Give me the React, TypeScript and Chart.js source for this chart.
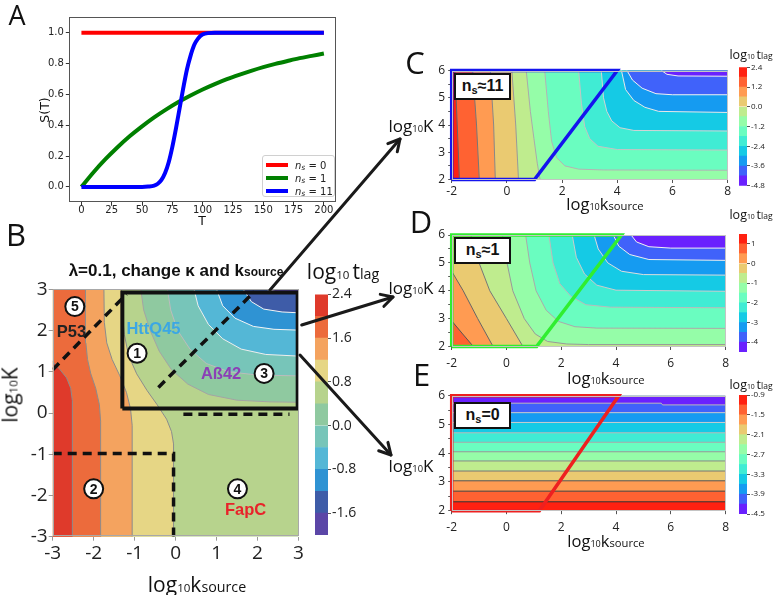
import React, { useEffect, useRef } from 'react';
import { Chart, registerables } from 'chart.js';

Chart.register(...registerables);

type P = [number, number];

/* ================= Panel A : S(T) curves ================= */
const aTRed = [0, 200];
const aSRed = [1, 1];
const aTGreen = [0, 10, 20, 30, 40, 50, 60, 70, 80, 90, 100, 110, 120, 130, 140, 150, 160, 170, 180, 190, 200];
const aSGreen = [0, 0.095, 0.181, 0.259, 0.33, 0.393, 0.451, 0.503, 0.551, 0.593, 0.632, 0.667, 0.699, 0.727, 0.753, 0.777, 0.798, 0.817, 0.835, 0.85, 0.865];
const aTBlue = [0, 50, 55, 60, 63, 66, 69, 72, 75, 78, 81, 84, 87, 90, 93, 96, 100, 110, 150, 200];
const aSBlue = [0, 0, 0.002, 0.008, 0.02, 0.045, 0.09, 0.16, 0.26, 0.38, 0.51, 0.64, 0.76, 0.85, 0.92, 0.96, 0.99, 1, 1, 1];
const aXTicks = [0, 25, 50, 75, 100, 125, 150, 175, 200];
const aYTicks = [0, 0.2, 0.4, 0.6, 0.8, 1.0];

/* ================= Panel B : log10 t_lag, lambda = 0.1 ================= */
const bTicks = [-3, -2, -1, 0, 1, 2, 3];
const bLevels = [-2.0, -1.6, -1.2, -0.8, -0.4, 0, 0.4, 0.8, 1.2, 1.6, 2.0, 2.4];
const bCbTicks = [2.4, 1.6, 0.8, 0, -0.8, -1.6];
// high-value contours (bottom -> top)
const bHi20: P[] = [[-2.52, -3], [-2.52, 0.3], [-2.56, 0.6], [-2.66, 0.85], [-2.82, 1.05], [-3, 1.25]];
const bHi16: P[] = [[-1.83, -3], [-1.83, -0.2], [-1.86, 0.2], [-1.95, 0.6], [-2.07, 0.95], [-2.15, 1.3], [-2.19, 1.7], [-2.2, 3]];
const bHi12: P[] = [[-1.06, -3], [-1.06, -0.3], [-1.1, 0.1], [-1.2, 0.5], [-1.36, 0.9], [-1.55, 1.3], [-1.68, 1.7], [-1.74, 2.2], [-1.75, 3]];
const bHi08: P[] = [[-0.05, -3], [-0.05, -0.75], [-0.1, -0.45], [-0.22, -0.15], [-0.45, 0.2], [-0.7, 0.55], [-0.95, 0.95], [-1.15, 1.4], [-1.25, 1.9], [-1.3, 2.4], [-1.32, 3]];
// low-value contours (top edge -> right edge)
const bLo04: P[] = [[-0.85, 3], [-0.78, 2.5], [-0.62, 2.0], [-0.4, 1.5], [-0.1, 1.05], [0.3, 0.7], [0.8, 0.45], [1.5, 0.31], [2.3, 0.27], [3, 0.26]];
const bLo00: P[] = [[-0.2, 3], [-0.12, 2.5], [0.05, 2.0], [0.35, 1.55], [0.75, 1.2], [1.3, 1.0], [2.0, 0.92], [3, 0.9]];
const bLoM04: P[] = [[0.45, 3], [0.55, 2.6], [0.8, 2.15], [1.15, 1.8], [1.6, 1.55], [2.2, 1.42], [3, 1.38]];
const bLoM08: P[] = [[1.0, 3], [1.15, 2.6], [1.45, 2.3], [1.9, 2.1], [2.4, 2.03], [3, 2.01]];
const bLoM12: P[] = [[1.65, 3], [1.85, 2.7], [2.15, 2.52], [2.6, 2.45], [3, 2.43]];
const bLoM16: P[] = [[2.2, 3], [2.5, 2.93], [3, 2.9]];
// annotations in panel B
const bBox: P[] = [[-1.3, 0.11], [2.98, 0.11], [2.98, 2.92], [-1.3, 2.92], [-1.3, 0.11]];
const bDash1: P[] = [[-3, 1.05], [-1.2, 2.88]];
const bDash2: P[] = [[-0.42, 0.62], [1.92, 2.94]];
const bDash3: P[] = [[0.19, -0.03], [2.78, -0.03]];
const bDash4: P[] = [[-3, -0.98], [-0.05, -0.98], [-0.05, -3]];
const bCircleNames = ['5', '1', '3', '2', '4'];
const bCircleX = [-2.46, -0.94, 2.16, -2.0, 1.51];
const bCircleY = [2.58, 1.45, 0.96, -1.84, -1.84];
const bTagNames = ['P53', 'HttQ45', 'Aß42', 'FapC'];
const bTagX = [-2.54, -0.54, 1.11, 1.71];
const bTagY = [1.97, 2.05, 0.96, -2.35];

/* ================= Panels C, D, E ================= */
const cdeXTicks = [-2, 0, 2, 4, 6, 8];
const cdeYTicks = [2, 2.5, 3, 3.5, 4, 4.5, 5, 5.5, 6];

// C : n_s ~ 11, levels -4.8 .. 2.4 step 0.6
const cLevels = [-4.8, -4.2, -3.6, -3.0, -2.4, -1.8, -1.2, -0.6, 0, 0.6, 1.2, 1.8, 2.4];
const cCbTicks = [2.4, 1.2, 0, -1.2, -2.4, -3.6, -4.8];
const c18: P[] = [[-1.72, 2], [-1.8, 4], [-1.88, 6]];
const c12: P[] = [[-1.0, 2], [-1.1, 4], [-1.24, 6]];
const c06: P[] = [[-0.42, 2], [-0.48, 4], [-0.6, 6]];
const c00: P[] = [[0.42, 2], [0.32, 4], [0.18, 6]];
const cM06: P[] = [[0.7, 6], [0.85, 4.5], [0.98, 3.5], [1.1, 2.6], [1.2, 2]];
const cM12: P[] = [[1.37, 6], [1.5, 4.5], [1.62, 3.4], [1.8, 2.8], [2.1, 2.5], [2.6, 2.38], [3.5, 2.35], [8, 2.34]];
const cM18: P[] = [[2.6, 6], [2.7, 4.8], [2.82, 3.94], [3.0, 3.5], [3.3, 3.22], [4.0, 3.1], [8, 3.08]];
const cM24: P[] = [[3.42, 6], [3.5, 5.0], [3.62, 4.5], [3.8, 4.15], [4.1, 3.9], [4.6, 3.8], [8, 3.78]];
const cM30: P[] = [[4.15, 6], [4.3, 5.3], [4.6, 4.9], [5.0, 4.65], [5.5, 4.5], [8, 4.46]];
const cM36: P[] = [[4.35, 6], [4.55, 5.65], [4.9, 5.35], [5.4, 5.15], [6.0, 5.11], [8, 5.11]];
const cM42: P[] = [[5.6, 6], [5.8, 5.86], [6.2, 5.8], [8, 5.79]];
const cPoly: P[] = [[-2, 2], [-2, 6], [4.0, 6], [1.0, 2], [-2, 2]];

// D : n_s ~ 1, levels -4.5 .. 1.5 step 0.5
const dLevels = [-4.5, -4, -3.5, -3, -2.5, -2, -1.5, -1, -0.5, 0, 0.5, 1, 1.5];
const dCbTicks = [1, 0, -1, -2, -3, -4];
const d05: P[] = [[-2, 2.92], [-1.6, 2.45], [-1.21, 2]];
const d00: P[] = [[-2, 4.7], [-1.58, 4.0], [-1.05, 3.0], [-0.49, 2]];
const dM05: P[] = [[-1.3, 6], [-1.0, 5.0], [-0.61, 4.0], [0.0, 3.0], [0.6, 2]];
const dM10: P[] = [[-0.15, 6], [0.02, 5.0], [0.23, 4.0], [0.65, 3.0], [1.05, 2.45], [1.5, 2.18], [2.2, 2.09], [3.0, 2.07], [8, 2.07]];
const dM15: P[] = [[0.7, 6], [0.85, 5.0], [1.08, 4.0], [1.45, 3.3], [1.9, 2.9], [2.5, 2.71], [3.3, 2.66], [8, 2.65]];
const dM20: P[] = [[1.55, 6], [1.7, 5.0], [1.95, 4.25], [2.35, 3.8], [2.9, 3.5], [3.8, 3.41], [8, 3.39]];
const dM25: P[] = [[2.4, 6], [2.55, 5.2], [2.85, 4.6], [3.3, 4.2], [4.0, 4.02], [8, 3.98]];
const dM30: P[] = [[3.2, 6], [3.35, 5.5], [3.7, 5.0], [4.2, 4.7], [5.0, 4.58], [8, 4.56]];
const dM35: P[] = [[3.9, 6], [4.1, 5.6], [4.5, 5.3], [5.2, 5.12], [8, 5.09]];
const dM40: P[] = [[4.55, 6], [4.75, 5.75], [5.2, 5.58], [6, 5.53], [8, 5.53]];
const dPoly: P[] = [[-2, 2], [-2, 6], [4.2, 6], [1.1, 2], [-2, 2]];

// E : n_s = 0, levels -4.5 .. -0.9 step 0.3 (horizontal bands)
const eLevels = [-4.5, -4.2, -3.9, -3.6, -3.3, -3.0, -2.7, -2.4, -2.1, -1.8, -1.5, -1.2, -0.9];
const eCbTicks = [-0.9, -1.5, -2.1, -2.7, -3.3, -3.9, -4.5];
const eBoundY = [2.31, 2.68, 3.04, 3.38, 3.73, 4.05, 4.38, 4.71, 5.07, 5.41, 5.74];
const eTopStep: P[] = [[-2, 5.74], [5.65, 5.74], [5.7, 5.68], [8, 5.68]];
const ePoly: P[] = [[-2, 2], [-2, 6], [4.1, 6], [1.2, 2], [-2, 2]];

/* ================= styles ================= */
const bColors = ['#5b46a7', '#3e5ca8', '#2f93d3', '#54b7d6', '#77c5b9', '#8fc9a0', '#b7d38d', '#e6d685', '#f4a35f', '#ec6b3c', '#df3a2b'];
const RB = ['#6a21fe', '#4062fa', '#159bf1', '#15cae5', '#40ecd4', '#6afdc0', '#95fda8', '#bfec8e', '#eaca71', '#ff9b52', '#ff6232', '#ff2111'];
const SANS = '"Open Sans", "Noto Sans", sans-serif';
const ARIAL = '"Liberation Sans", Arial, sans-serif';

/* ================= helpers ================= */
const pts = (c: P[]) => c.map(([x, y]) => ({ x, y }));
const zip = (xs: number[], ys: number[]) => xs.map((x, i) => ({ x, y: ys[i] }));
type Bounds = { tl: P; tr: P; bl: P; br: P };
const boundsOf = (x0: number, x1: number, y0: number, y1: number): Bounds => ({ tl: [x0, y1], tr: [x1, y1], bl: [x0, y0], br: [x1, y0] });
const rectOf = (b: Bounds): P[] => [b.bl, b.br, b.tr, b.tl];
const region = (curve: P[], b: Bounds, keys: (keyof Bounds)[]): P[] => [...curve, ...keys.map((k) => b[k])];
const fillDs = (poly: P[], color: string) => ({ data: pts(poly), fill: 'shape', backgroundColor: color, borderColor: color, borderWidth: 0, pointRadius: 0 });
const lineDs = (c: P[], color: string, width = 1, dash: number[] = []) => ({ data: pts(c), fill: false, borderColor: color, borderWidth: width, borderDash: dash, pointRadius: 0 });
const outlineDs = (c: P[], color: string) => ({ ...lineDs(c, color, 3.5), clip: false, borderJoinStyle: 'miter' });
const stackOrder = (list: any[]) => list.map((d, i) => ({ ...d, order: list.length - i }));

const framePlugin = (color: string) => ({
  id: 'frame',
  afterDatasetsDraw(chart: any) {
    const { ctx, chartArea: a } = chart;
    ctx.save();
    ctx.strokeStyle = color;
    ctx.lineWidth = 1;
    ctx.strokeRect(Math.round(a.left) + 0.5, Math.round(a.top) + 0.5, Math.round(a.right - a.left) - 1, Math.round(a.bottom - a.top) - 1);
    ctx.restore();
  },
});

const textPlugin = (names: string[], xs: number[], ys: number[], colors: string[], font: string) => ({
  id: 'txt' + names.join(''),
  afterDatasetsDraw(chart: any) {
    const { ctx, scales } = chart;
    ctx.save();
    ctx.textAlign = 'center';
    ctx.textBaseline = 'middle';
    ctx.font = font;
    names.forEach((n, i) => {
      ctx.fillStyle = colors[i % colors.length];
      ctx.fillText(n, scales.x.getPixelForValue(xs[i]), scales.y.getPixelForValue(ys[i]) + 1);
    });
    ctx.restore();
  },
});

type AxOpt = { size: number; family: string; pad: number; tick: number; grid: string; fmt?: (v: number) => string; fit: number };
const axis = (dir: 'x' | 'y', min: number, max: number, ticks: number[], o: AxOpt) => ({
  type: 'linear',
  min,
  max,
  afterBuildTicks: (s: any) => { s.ticks = ticks.map((v) => ({ value: v })); },
  afterFit: (s: any) => { if (dir === 'x') s.height = o.fit; else s.width = o.fit; },
  ticks: { autoSkip: false, maxRotation: 0, padding: o.pad, color: '#222', font: { family: o.family, size: o.size }, callback: (v: any) => (o.fmt ? o.fmt(Number(v)) : String(v)) },
  grid: { drawOnChartArea: false, drawTicks: true, tickLength: o.tick, color: o.grid },
  border: { display: false },
});

const baseOptions = (pad: { top: number; right: number }) => ({
  animation: false,
  responsive: false,
  events: [],
  layout: { padding: { top: pad.top, right: pad.right, left: 0, bottom: 0 } },
  plugins: { legend: { display: false }, tooltip: { enabled: false } },
});

/* ================= chart configs ================= */
function aConfig() {
  const fam = '"DejaVu Sans", sans-serif';
  return {
    type: 'line',
    data: {
      datasets: [
        { data: zip(aTBlue, aSBlue), borderColor: '#0000ff', borderWidth: 4, pointRadius: 0, cubicInterpolationMode: 'monotone', order: 1 },
        { data: zip(aTGreen, aSGreen), borderColor: '#008000', borderWidth: 4, pointRadius: 0, cubicInterpolationMode: 'monotone', order: 2 },
        { data: zip(aTRed, aSRed), borderColor: '#ff0000', borderWidth: 4, pointRadius: 0, order: 3 },
      ],
    },
    options: {
      ...baseOptions({ top: 17.3, right: 9 }),
      scales: {
        x: axis('x', -10, 210, aXTicks, { size: 10, family: fam, pad: -1, tick: 3.5, grid: '#333', fit: 25.7 }),
        y: axis('y', -0.1, 1.1, aYTicks, { size: 10, family: fam, pad: 2, tick: 3.5, grid: '#333', fit: 69.3, fmt: (v) => v.toFixed(1) }),
      },
    },
    plugins: [framePlugin('#555')],
  };
}

function bConfig() {
  const b = boundsOf(-3, 3, -3, 3);
  const grey = '#8c8c8c';
  const list = [
    fillDs(rectOf(b), bColors[6]),
    fillDs(region(bHi08, b, ['tl', 'bl']), bColors[7]),
    fillDs(region(bHi12, b, ['tl', 'bl']), bColors[8]),
    fillDs(region(bHi16, b, ['tl', 'bl']), bColors[9]),
    fillDs(region(bHi20, b, ['bl']), bColors[10]),
    fillDs(region(bLo04, b, ['tr']), bColors[5]),
    fillDs(region(bLo00, b, ['tr']), bColors[4]),
    fillDs(region(bLoM04, b, ['tr']), bColors[3]),
    fillDs(region(bLoM08, b, ['tr']), bColors[2]),
    fillDs(region(bLoM12, b, ['tr']), bColors[1]),
    fillDs(region(bLoM16, b, ['tr']), bColors[0]),
    lineDs(bHi20, grey), lineDs(bHi16, grey), lineDs(bHi12, grey), lineDs(bHi08, grey),
    lineDs(bLo04, '#a4a4a4'), lineDs(bLo00, '#bcbcbc'),
    lineDs(bLoM04, '#eeeeee'), lineDs(bLoM08, '#f4f4f4'), lineDs(bLoM12, '#f4f4f4'), lineDs(bLoM16, '#f4f4f4'),
    lineDs(bDash1, '#111', 3.5, [9, 6]), lineDs(bDash2, '#111', 3.5, [9, 6]),
    lineDs(bDash3, '#111', 3.5, [9, 6]), lineDs(bDash4, '#111', 3.5, [9, 6]),
    lineDs(bBox, '#111', 4),
    { data: zip(bCircleX, bCircleY), showLine: false, pointRadius: 9.5, pointBackgroundColor: '#fff', pointBorderColor: '#111', pointBorderWidth: 2, borderWidth: 0 },
  ];
  const fs = { size: 19, family: SANS, tick: 4, grid: '#999' };
  return {
    type: 'line',
    data: { datasets: stackOrder(list) },
    options: {
      ...baseOptions({ top: 14.3, right: 8.3 }),
      scales: {
        x: axis('x', -3, 3, bTicks, { ...fs, pad: 1, fit: 38.3 }),
        y: axis('y', -3, 3, bTicks, { ...fs, pad: 1, fit: 52.7 }),
      },
    },
    plugins: [
      framePlugin('#a8a8a8'),
      textPlugin(bCircleNames, bCircleX, bCircleY, ['#111'], `bold 14px ${ARIAL}`),
      textPlugin(bTagNames, bTagX, bTagY, ['#222', '#3ba7e4', '#8b3fb6', '#e8232a'], `bold 16.5px ${ARIAL}`),
    ],
  };
}

function cdeConfig(list: any[], pad: { top: number; right: number }, xFit: number, xPad: number) {
  const fs = { size: 12, family: SANS, tick: 3.5, grid: '#555' };
  return {
    type: 'line',
    data: { datasets: stackOrder(list) },
    options: {
      ...baseOptions(pad),
      scales: {
        x: axis('x', -2, 8, cdeXTicks, { ...fs, pad: xPad, fit: xFit }),
        y: axis('y', 2, 6, cdeYTicks, { ...fs, pad: 3, fit: 66.7, fmt: (v) => (Number.isInteger(v) ? String(v) : '') }),
      },
    },
    plugins: [framePlugin('#c4c4c4')],
  };
}

function cConfig() {
  const b = boundsOf(-2, 8, 2, 6);
  const list = [
    fillDs(rectOf(b), RB[11]),
    fillDs(region(c18, b, ['tr', 'br']), RB[10]),
    fillDs(region(c12, b, ['tr', 'br']), RB[9]),
    fillDs(region(c06, b, ['tr', 'br']), RB[8]),
    fillDs(region(c00, b, ['tr', 'br']), RB[7]),
    fillDs(region(cM06, b, ['br', 'tr']), RB[6]),
    fillDs(region(cM12, b, ['tr']), RB[5]),
    fillDs(region(cM18, b, ['tr']), RB[4]),
    fillDs(region(cM24, b, ['tr']), RB[3]),
    fillDs(region(cM30, b, ['tr']), RB[2]),
    fillDs(region(cM36, b, ['tr']), RB[1]),
    fillDs(region(cM42, b, ['tr']), RB[0]),
    lineDs(c18, '#666'), lineDs(c12, '#777'), lineDs(c06, '#888'), lineDs(c00, '#999'), lineDs(cM06, '#aaa'),
    lineDs(cM12, '#b4b4b4'), lineDs(cM18, '#c4c4c4'), lineDs(cM24, '#d4d4d4'), lineDs(cM30, '#e8e8e8'),
    lineDs(cM36, '#f2f2f2'), lineDs(cM42, '#f2f2f2'),
    outlineDs(cPoly, '#1414ee'),
  ];
  return cdeConfig(list, { top: 12.5, right: 7.3 }, 20.5, 1);
}

function dConfig() {
  const b = boundsOf(-2, 8, 2, 6);
  const list = [
    fillDs(rectOf(b), RB[10]),
    fillDs(region(d05, b, ['br', 'tr', 'tl']), RB[9]),
    fillDs(region(d00, b, ['br', 'tr', 'tl']), RB[8]),
    fillDs(region(dM05, b, ['br', 'tr']), RB[7]),
    fillDs(region(dM10, b, ['tr']), RB[6]),
    fillDs(region(dM15, b, ['tr']), RB[5]),
    fillDs(region(dM20, b, ['tr']), RB[4]),
    fillDs(region(dM25, b, ['tr']), RB[3]),
    fillDs(region(dM30, b, ['tr']), RB[2]),
    fillDs(region(dM35, b, ['tr']), RB[1]),
    fillDs(region(dM40, b, ['tr']), RB[0]),
    lineDs(d05, '#555'), lineDs(d00, '#666'), lineDs(dM05, '#777'), lineDs(dM10, '#999'),
    lineDs(dM15, '#aaa'), lineDs(dM20, '#bbb'), lineDs(dM25, '#ccc'), lineDs(dM30, '#ddd'),
    lineDs(dM35, '#eee'), lineDs(dM40, '#f2f2f2'),
    outlineDs(dPoly, '#30ee30'),
  ];
  return cdeConfig(list, { top: 13, right: 7.3 }, 27.5, 6);
}

function eConfig() {
  const b = boundsOf(-2, 8, 2, 6);
  const lineColors = ['#333', '#444', '#555', '#777', '#888', '#999', '#aaa', '#bbb', '#ccc', '#ccc', '#bbb'];
  const lines: P[][] = eBoundY.map((y, i) => (i === eBoundY.length - 1 ? eTopStep : ([[-2, y], [8, y]] as P[])));
  const list = [
    fillDs(rectOf(b), RB[11]),
    ...lines.map((l, i) => fillDs(region(l, b, ['tr', 'tl']), RB[10 - i])),
    ...lines.map((l, i) => lineDs(l, lineColors[i])),
    outlineDs(ePoly, '#ee2020'),
  ];
  return cdeConfig(list, { top: 10.7, right: 7.3 }, 26.3, 6);
}

function cbConfig(levels: number[], colors: string[], ticks: number[], o: { w: number; size: number; top: number; bottom: number; fmt: (v: number) => string }) {
  const datasets = colors.map((c, i) => ({
    data: [[levels[i], levels[i + 1]]],
    backgroundColor: c,
    borderWidth: 0,
    barPercentage: 1,
    categoryPercentage: 1,
    grouped: false,
  }));
  return {
    type: 'bar',
    data: { labels: [''], datasets },
    options: {
      animation: false,
      responsive: false,
      events: [],
      layout: { padding: { top: o.top, bottom: o.bottom, left: 0, right: 0 } },
      plugins: { legend: { display: false }, tooltip: { enabled: false } },
      scales: {
        x: { display: false },
        y: {
          position: 'right',
          min: levels[0],
          max: levels[levels.length - 1],
          afterBuildTicks: (s: any) => { s.ticks = ticks.map((v) => ({ value: v })); },
          afterFit: (s: any) => { s.width = o.w; },
          ticks: { padding: 1, color: '#222', font: { family: SANS, size: o.size }, callback: (v: any) => o.fmt(Number(v)) },
          grid: { drawOnChartArea: false, drawTicks: true, tickLength: 3, color: '#555' },
          border: { display: false },
        },
      },
    },
  };
}

/* ================= components ================= */
function ChartCanvas({ x, y, w, h, make }: { x: number; y: number; w: number; h: number; make: () => any }) {
  const ref = useRef<HTMLCanvasElement | null>(null);
  useEffect(() => {
    if (!ref.current) return;
    const chart = new Chart(ref.current, make());
    return () => chart.destroy();
  }, []);
  return (
    <div style={{ position: 'absolute', left: x, top: y, width: w, height: h }}>
      <canvas ref={ref} width={w} height={h} style={{ display: 'block', width: w, height: h }} />
    </div>
  );
}

function Txt({ x, y, children, style, rot }: { x: number; y: number; children: any; style?: any; rot?: number }) {
  return (
    <div
      style={{
        position: 'absolute',
        left: x,
        top: y,
        transform: `translate(-50%, -50%)${rot ? ` rotate(${rot}deg)` : ''}`,
        whiteSpace: 'nowrap',
        lineHeight: 1,
        color: '#111',
        fontFamily: SANS,
        ...style,
      }}
    >
      {children}
    </div>
  );
}

const LogK = ({ size }: { size: number }) => (
  <span style={{ fontSize: size }}>
    log<span style={{ fontSize: size * 0.55 }}>10</span>K
  </span>
);
const LogKs = ({ size }: { size: number }) => (
  <span style={{ fontSize: size }}>
    log<span style={{ fontSize: size * 0.55 }}>10</span>k<span style={{ fontSize: size * 0.68 }}>source</span>
  </span>
);
const LogT = ({ size }: { size: number }) => (
  <span style={{ fontSize: size }}>
    log<span style={{ fontSize: size * 0.55 }}>10 </span>t<span style={{ fontSize: size * 0.68 }}>lag</span>
  </span>
);

function NsBox({ x, y, rest }: { x: number; y: number; rest: string }) {
  return (
    <div
      style={{
        position: 'absolute', left: x, top: y, width: 56.5, height: 27.5, boxSizing: 'border-box',
        border: '2px solid #111', background: '#fff', display: 'flex', alignItems: 'center', justifyContent: 'center',
        fontFamily: ARIAL, fontWeight: 'bold', fontSize: 16, color: '#111',
      }}
    >
      n<span style={{ fontSize: 11, position: 'relative', top: 4 }}>s</span>
      {rest}
    </div>
  );
}

function Arrow({ x1, y1, x2, y2 }: { x1: number; y1: number; x2: number; y2: number }) {
  const a = Math.atan2(y2 - y1, x2 - x1);
  const L = 13;
  const s = 0.5;
  const p1 = [x2 - L * Math.cos(a - s), y2 - L * Math.sin(a - s)];
  const p2 = [x2 - L * Math.cos(a + s), y2 - L * Math.sin(a + s)];
  return (
    <g stroke="#1a1a1a" strokeWidth={3} fill="none" strokeLinecap="round" strokeLinejoin="round">
      <line x1={x1} y1={y1} x2={x2} y2={y2} />
      <polyline points={`${p1[0]},${p1[1]} ${x2},${y2} ${p2[0]},${p2[1]}`} />
    </g>
  );
}

const legendRows = [
  { c: '#ff0000', v: '0' },
  { c: '#008000', v: '1' },
  { c: '#0000ff', v: '11' },
];

export default function App() {
  useEffect(() => {
    document.body.style.margin = '0';
  }, []);
  const letter = { fontSize: 31, fontFamily: SANS, color: '#111' };
  return (
    <div style={{ position: 'absolute', left: 0, top: 0, width: 774, height: 595, background: '#fff', overflow: 'hidden' }}>
      {/* Panel A */}
      <ChartCanvas x={0} y={0} w={345} h={228} make={aConfig} />
      <Txt x={45} y={110} rot={-90} style={{ fontFamily: '"DejaVu Sans", sans-serif', fontSize: 12.5 }}>S(T)</Txt>
      <Txt x={202} y={221} style={{ fontFamily: '"DejaVu Sans", sans-serif', fontSize: 12.5 }}>T</Txt>
      <div style={{ position: 'absolute', left: 262, top: 155, width: 73, height: 42, boxSizing: 'border-box', background: '#fff', border: '1px solid #d0d0d0', borderRadius: 3 }}>
        {legendRows.map((r, i) => (
          <div key={i} style={{ position: 'absolute', left: 3, top: 3 + i * 13, height: 12, display: 'flex', alignItems: 'center', fontFamily: '"DejaVu Sans", sans-serif', fontSize: 10, color: '#222' }}>
            <div style={{ width: 22, height: 4, background: r.c, marginRight: 7 }} />
            <i>n</i>
            <i style={{ fontSize: 7.5, position: 'relative', top: 2 }}>s</i>
            <span>&nbsp;= {r.v}</span>
          </div>
        ))}
      </div>
      <Txt x={17} y={14} style={{ ...letter, fontSize: 27 }}>A</Txt>

      {/* Panel B */}
      <ChartCanvas x={0} y={275} w={310} h={300} make={bConfig} />
      <ChartCanvas
        x={315}
        y={285}
        w={60}
        h={260}
        make={() => cbConfig(bLevels, bColors, bCbTicks, { w: 47, size: 14, top: 7.7, bottom: 10, fmt: (v) => v.toFixed(1) })}
      />
      <Txt x={16} y={234} style={letter}>B</Txt>
      <Txt x={176} y={269.5} style={{ fontFamily: ARIAL, fontWeight: 'bold', fontSize: 17 }}>
        λ=0.1, change κ and k<span style={{ fontSize: 12 }}>source</span>
      </Txt>
      <Txt x={10} y={395} rot={-90}><LogK size={21} /></Txt>
      <Txt x={197} y={584}><LogKs size={21} /></Txt>
      <Txt x={343} y={271}><LogT size={21} /></Txt>

      {/* Panel C */}
      <ChartCanvas x={385} y={58} w={350} h={142} make={cConfig} />
      <ChartCanvas
        x={739}
        y={60}
        w={35}
        h={135}
        make={() => cbConfig(cLevels, RB, cCbTicks, { w: 27, size: 8, top: 7.3, bottom: 9.3, fmt: (v) => v.toFixed(1) })}
      />
      <NsBox x={454.3} y={72.7} rest="≈11" />
      <Txt x={415} y={62} style={letter}>C</Txt>
      <Txt x={411} y={125}><LogK size={17} /></Txt>
      <Txt x={605} y={204}><LogKs size={16.5} /></Txt>
      <Txt x={751} y={53}><LogT size={12.5} /></Txt>

      {/* Panel D */}
      <ChartCanvas x={385} y={222} w={350} h={152} make={dConfig} />
      <ChartCanvas
        x={739}
        y={226}
        w={35}
        h={135}
        make={() => cbConfig(dLevels, RB, dCbTicks, { w: 27, size: 8, top: 8, bottom: 9, fmt: (v) => String(v) })}
      />
      <NsBox x={454.3} y={236.5} rest="≈1" />
      <Txt x={421} y={221} style={letter}>D</Txt>
      <Txt x={411} y={287}><LogK size={17} /></Txt>
      <Txt x={606} y={377.5}><LogKs size={16.5} /></Txt>
      <Txt x={751} y={213}><LogT size={12.5} /></Txt>

      {/* Panel E */}
      <ChartCanvas x={385} y={385} w={350} h={152} make={eConfig} />
      <ChartCanvas
        x={739}
        y={387}
        w={35}
        h={135}
        make={() => cbConfig(eLevels, RB, eCbTicks, { w: 27, size: 8, top: 8, bottom: 8, fmt: (v) => v.toFixed(1) })}
      />
      <NsBox x={454.3} y={401.7} rest="=0" />
      <Txt x={421.5} y={374} style={letter}>E</Txt>
      <Txt x={411} y={465}><LogK size={17} /></Txt>
      <Txt x={606} y={541}><LogKs size={16.5} /></Txt>
      <Txt x={751} y={383}><LogT size={12.5} /></Txt>

      {/* connecting arrows */}
      <svg width={774} height={595} style={{ position: 'absolute', left: 0, top: 0, pointerEvents: 'none' }}>
        <Arrow x1={270} y1={290} x2={400} y2={139} />
        <Arrow x1={301.7} y1={325} x2={393} y2={297} />
        <Arrow x1={300} y1={355} x2={391} y2={455} />
      </svg>
    </div>
  );
}
